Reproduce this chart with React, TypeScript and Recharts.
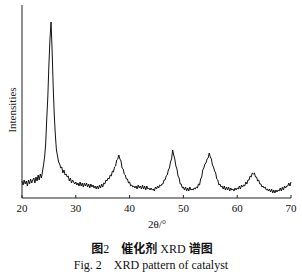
import { LineChart, Line, XAxis, YAxis } from 'recharts';

// 2θ from 20° to 70° in 0.2° steps, one intensity per step
const startAngle = 20;
const stepAngle = 0.2;

const intensity = [
  17, 13, 18, 14, 17, 12, 18, 14, 19, 15,
  18, 20, 15, 21, 17, 23, 18, 24, 20, 26,
  33, 41, 54, 79, 101, 133, 159, 176, 147, 111,
  83, 63, 48, 42, 36, 34, 30, 31, 25, 28,
  23, 24, 21, 22, 17, 20, 15, 18, 16, 14,
  16, 13, 15, 12, 16, 12, 15, 11, 15, 12,
  15, 11, 14, 10, 14, 11, 13, 10, 12, 9,
  12, 9, 13, 10, 14, 11, 15, 14, 18, 17,
  20, 19, 23, 22, 27, 26, 31, 32, 38, 39,
  43, 39, 37, 30, 29, 24, 23, 19, 19, 15,
  16, 12, 13, 11, 12, 10, 12, 9, 13, 10,
  12, 9, 13, 9, 12, 8, 12, 9, 10, 8,
  10, 8, 9, 7, 11, 9, 12, 10, 13, 12,
  14, 14, 18, 18, 22, 23, 28, 30, 36, 39,
  48, 43, 39, 32, 29, 22, 20, 14, 14, 10,
  11, 8, 11, 7, 10, 7, 11, 8, 9, 8,
  10, 9, 11, 10, 14, 13, 19, 21, 28, 30,
  34, 35, 39, 40, 45, 41, 39, 33, 31, 27,
  25, 19, 18, 13, 14, 11, 12, 9, 12, 8,
  11, 8, 11, 7, 10, 8, 9, 7, 10, 8,
  10, 9, 12, 9, 13, 11, 13, 12, 16, 14,
  18, 18, 22, 21, 25, 24, 25, 21, 21, 17,
  18, 14, 14, 11, 12, 10, 11, 8, 9, 7,
  9, 6, 9, 5, 8, 5, 8, 6, 8, 7,
  10, 7, 11, 8, 12, 10, 12, 12, 15, 12,
  16,
];

const xTicks = [20, 30, 40, 50, 60, 70];

const data = intensity.map((v, i) => ({
  angle: +(startAngle + i * stepAngle).toFixed(1),
  value: v,
}));

const serif = '"Liberation Serif", "DejaVu Serif", serif';
const cjk = { fontFamily: '"Noto Sans CJK SC", sans-serif', fontWeight: 'bold' as const };

const XTick = (props: any) => {
  const { x, y, payload } = props;
  return (
    <g>
      <line x1={x} x2={x} y1={y} y2={y - 3} stroke="#222" />
      <text x={x} y={y + 14} textAnchor="middle" fontSize={11} fontFamily={serif} fill="#111">
        {payload.value}
      </text>
    </g>
  );
};

export default function App() {
  return (
    <div style={{ position: 'relative', width: 302, height: 280, background: '#fff' }}>
      <style>{'body{margin:0}'}</style>
      <LineChart width={302} height={280} data={data} margin={{ top: 5, right: 11, bottom: 52, left: 0 }}>
        <XAxis
          dataKey="angle"
          type="number"
          domain={[20, 70]}
          ticks={xTicks}
          height={30}
          tickSize={0}
          tickMargin={0}
          tick={<XTick />}
          axisLine={{ stroke: '#222' }}
          tickLine={false}
        />
        <YAxis
          type="number"
          domain={[0, 193]}
          width={22}
          tick={false}
          tickLine={false}
          axisLine={{ stroke: '#222' }}
        />
        <Line
          type="linear"
          dataKey="value"
          stroke="#111"
          strokeWidth={1}
          dot={false}
          isAnimationActive={false}
        />
      </LineChart>
      <div
        style={{
          position: 'absolute', left: 12, top: 110, transform: 'translate(-50%, -50%) rotate(-90deg)',
          fontFamily: serif, fontSize: 11, color: '#222', whiteSpace: 'nowrap',
        }}
      >
        Intensities
      </div>
      <div
        style={{
          position: 'absolute', left: 0, width: 314, top: 218, textAlign: 'center',
          fontFamily: serif, fontSize: 11, color: '#111',
        }}
      >
        2θ/°
      </div>
      <div
        style={{
          position: 'absolute', left: 0, width: 304, top: 239, textAlign: 'center',
          fontFamily: serif, fontSize: 12, color: '#111', whiteSpace: 'pre',
        }}
      >
        <span style={cjk}>图</span>
        {'2    '}
        <span style={cjk}>催化剂</span>
        {' XRD '}
        <span style={cjk}>谱图</span>
      </div>
      <div
        style={{
          position: 'absolute', left: 0, width: 302, top: 258, textAlign: 'center',
          fontFamily: serif, fontSize: 12, color: '#111', whiteSpace: 'pre',
        }}
      >
        {'Fig. 2    XRD pattern of catalyst'}
      </div>
    </div>
  );
}
